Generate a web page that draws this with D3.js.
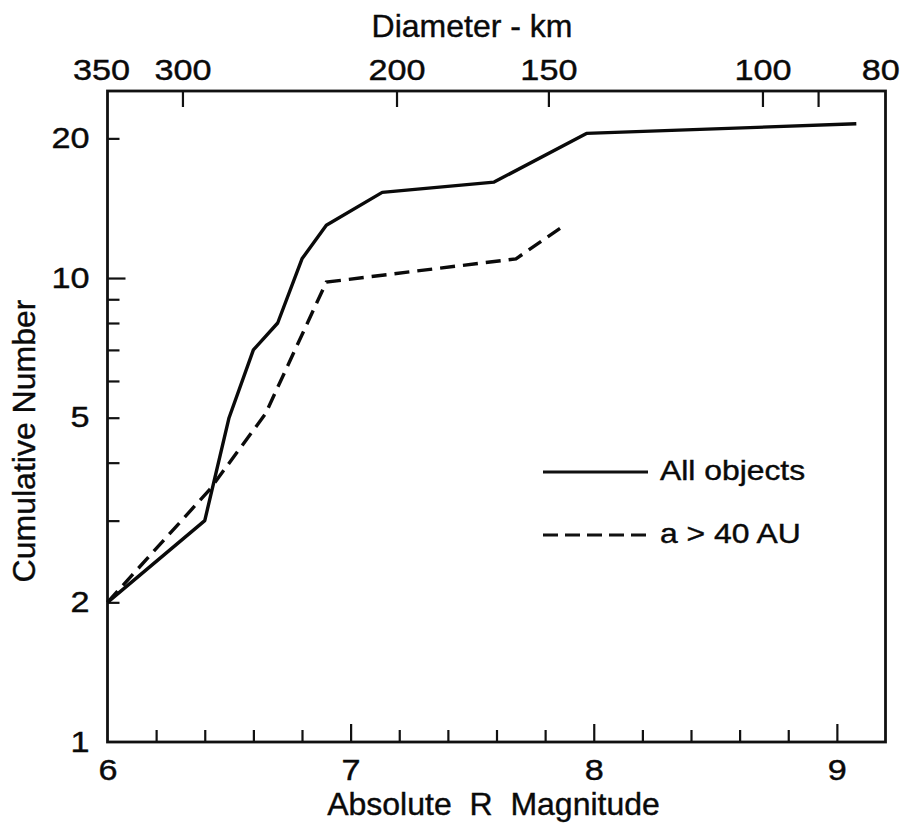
<!DOCTYPE html>
<html>
<head>
<meta charset="utf-8">
<script src="https://cdn.jsdelivr.net/npm/d3@7"></script>
<style>
  body { margin: 0; background: #fff; }
  svg text { font-family: "Liberation Sans", Arial, Helvetica, sans-serif; fill: #0a0a0a; stroke: #0a0a0a; stroke-width: 0.4px; }
</style>
</head>
<body>
<div id="chart"></div>
<script>
// All objects: absolute R magnitude vs cumulative number
const allMag = [6.0, 6.4, 6.5, 6.6, 6.7, 6.8, 6.9, 7.13, 7.59, 7.97, 9.08];
const allCount = [2, 3, 5, 7, 8, 11, 13, 15.3, 16.1, 20.5, 21.5];

// Objects with a > 40 AU
const farMag = [6.0, 6.42, 6.65, 6.9, 7.68, 7.88];
const farCount = [2, 3.5, 5.1, 9.8, 11, 13];

// tick values
const magLabels = [6, 7, 8, 9];
const magMajor = [7, 8, 9];
const magMinor = [6.2, 6.4, 6.6, 6.8, 7.2, 7.4, 7.6, 7.8, 8.2, 8.4, 8.6, 8.8];
const countLabels = [1, 2, 5, 10, 20];
const countMajor = [10];
const countMinor = [2, 3, 4, 5, 6, 7, 8, 9, 20];
const diamLabels = [350, 300, 200, 150, 100, 80];
const diamTicks = [300, 200, 150, 100, 90];

// diameter (km) <-> absolute magnitude, D = K * 10^(-H/5)
const K = 5480;

const SX = 1.18; // scanned lettering is a bit wider than Arial

const svg = d3.select('#chart').append('svg')
  .attr('width', 904)
  .attr('height', 824);

const margin = { top: 91, right: 18.5, bottom: 82, left: 107.5 };
const width = 904 - margin.left - margin.right;
const height = 824 - margin.top - margin.bottom;

const g = svg.append('g')
  .attr('transform', `translate(${margin.left},${margin.top})`);

const x = d3.scaleLinear().domain([6, 9.2]).range([0, width]);
const y = d3.scaleLog().domain([1, 25.3]).range([height, 0]);
const xTop = d3.scaleLog()
  .domain(x.domain().map(h => K * Math.pow(10, -h / 5)))
  .range([0, width]);

function ticks(axis, transform) {
  const a = g.append('g').attr('transform', transform || null).call(axis);
  a.select('.domain').remove();
  a.selectAll('line').attr('stroke', '#111').attr('stroke-width', 2.2);
  return a;
}

function labels(axis, transform, size) {
  const a = g.append('g').attr('transform', transform || null).call(axis);
  a.select('.domain').remove();
  a.attr('font-size', size).attr('font-family', null);
  return a;
}

// bottom axis
const bottom = `translate(0,${height})`;
ticks(d3.axisBottom(x).tickValues(magMinor).tickSize(-12).tickFormat(''), bottom);
ticks(d3.axisBottom(x).tickValues(magMajor).tickSize(-18).tickFormat(''), bottom);
labels(d3.axisBottom(x).tickValues(magLabels).tickSize(0).tickPadding(17).tickFormat(d3.format('d')), bottom, 29)
  .selectAll('text').attr('transform', `scale(${SX},1)`);

// left axis
ticks(d3.axisLeft(y).tickValues(countMinor).tickSize(-12).tickFormat(''));
ticks(d3.axisLeft(y).tickValues(countMajor).tickSize(-18).tickFormat(''));
labels(d3.axisLeft(y).tickValues(countLabels).tickSize(0).tickPadding(18).tickFormat(d3.format('d')), null, 29)
  .selectAll('text')
  .attr('x', -18 / SX)
  .attr('transform', `scale(${SX},1)`);

// top axis (diameter)
ticks(d3.axisTop(xTop).tickValues(diamTicks).tickSize(-16).tickFormat(''));
labels(d3.axisTop(xTop).tickValues(diamLabels).tickSize(0).tickPadding(11).tickFormat(d3.format('d')), null, 29)
  .selectAll('text').attr('transform', `scale(${SX},1)`);

// frame
g.append('rect')
  .attr('width', width)
  .attr('height', height)
  .attr('fill', 'none')
  .attr('stroke', '#111')
  .attr('stroke-width', 2.8);

// data lines
const line = d3.line()
  .x(d => x(d[0]))
  .y(d => y(d[1]));

g.append('path')
  .datum(d3.zip(allMag, allCount))
  .attr('fill', 'none')
  .attr('stroke', '#0a0a0a')
  .attr('stroke-width', 3.4)
  .attr('stroke-linejoin', 'round')
  .attr('d', line);

g.append('path')
  .datum(d3.zip(farMag, farCount))
  .attr('fill', 'none')
  .attr('stroke', '#0a0a0a')
  .attr('stroke-width', 3.4)
  .attr('stroke-dasharray', '15 8')
  .attr('d', line);

// titles
svg.append('text')
  .attr('x', 472).attr('y', 37)
  .attr('text-anchor', 'middle')
  .attr('font-size', 32)
  .text('Diameter - km');

svg.append('text')
  .attr('x', 493.5).attr('y', 815)
  .attr('text-anchor', 'middle')
  .attr('font-size', 32)
  .style('white-space', 'pre')
  .text('Absolute  R  Magnitude');

svg.append('text')
  .attr('transform', 'translate(35,441) rotate(-90)')
  .attr('text-anchor', 'middle')
  .attr('font-size', 32)
  .text('Cumulative Number');

// legend
const legend = svg.append('g').attr('transform', 'translate(543,472)');
const items = [
  { name: 'All objects', dash: null },
  { name: 'a > 40 AU', dash: '15 7' }
];
items.forEach((it, i) => {
  const row = legend.append('g').attr('transform', `translate(0,${i * 63})`);
  row.append('line')
    .attr('x1', 0).attr('x2', 105)
    .attr('stroke', '#111')
    .attr('stroke-width', 2.8)
    .attr('stroke-dasharray', it.dash);
  row.append('text')
    .attr('transform', `translate(117,8) scale(${SX},1)`)
    .attr('font-size', 27)
    .text(it.name);
});
</script>
</body>
</html>
